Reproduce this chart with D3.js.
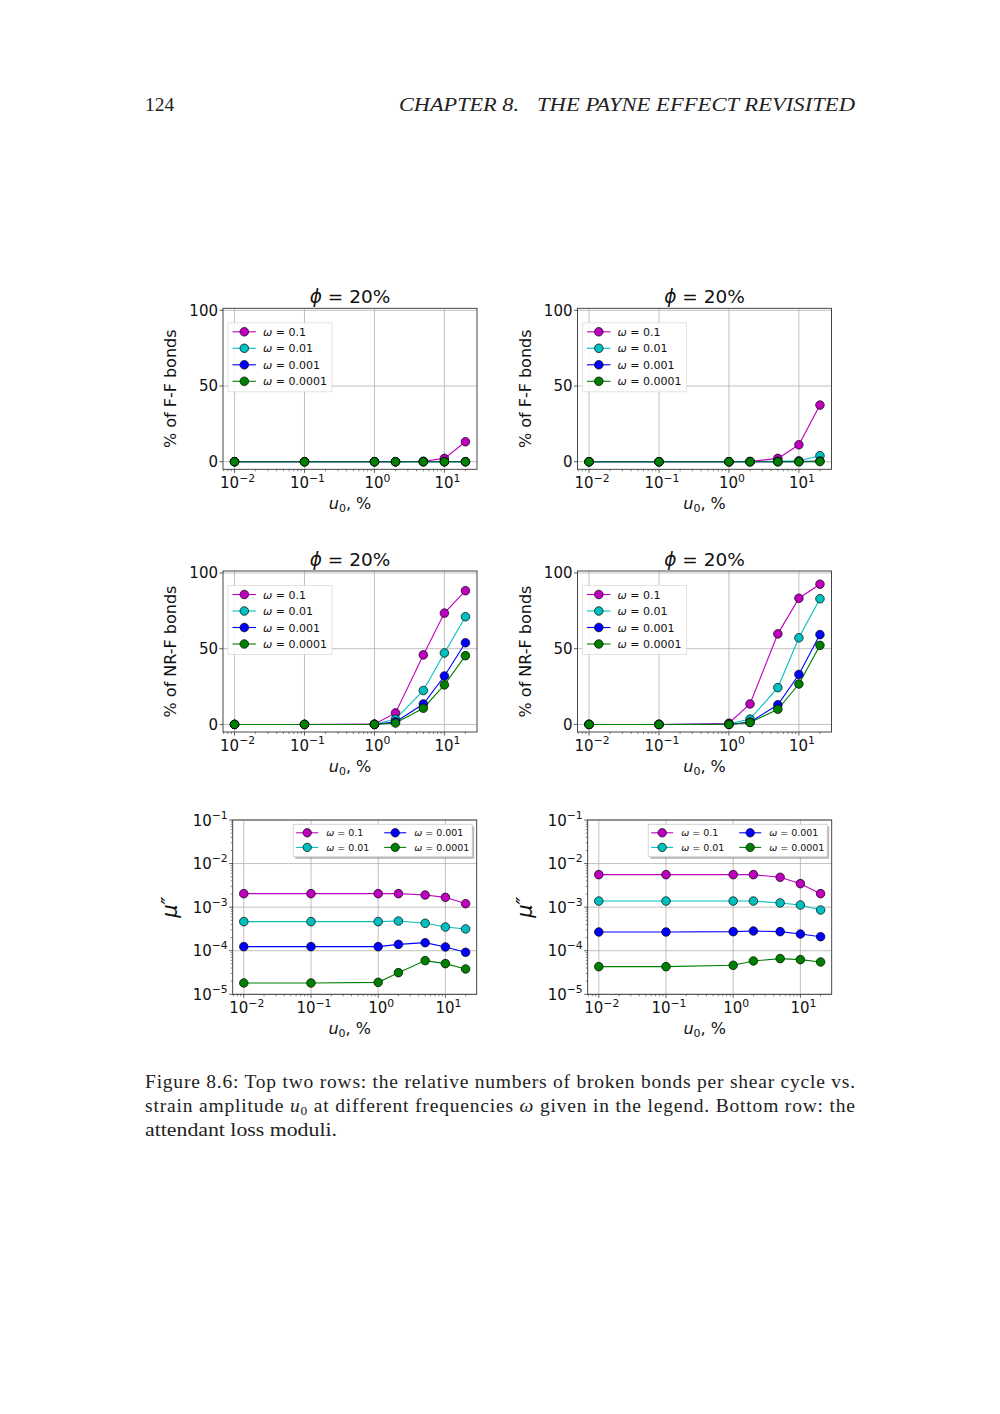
<!DOCTYPE html>
<html>
<head>
<meta charset="utf-8">
<script src="https://cdn.jsdelivr.net/npm/d3@7"></script>
<style>
  body { margin: 0; background: #fff; }
  svg { display: block; }
  .grid line { stroke: #b0b0b0; stroke-width: 0.8; }
  .serif { font-family: "Liberation Serif", "DejaVu Serif", serif; fill: #222; }
  .sans { font-family: "DejaVu Sans", sans-serif; fill: #111; }
</style>
</head>
<body>
<svg width="1000" height="1414"></svg>
<script>
// strain amplitudes u0, %
const u0 = [0.01, 0.1, 1, 2, 5, 10, 20];
const omegaLabels = ["0.1", "0.01", "0.001", "0.0001"];
const seriesColors = ["#bf00bf", "#00bfbf", "#0000ff", "#008000"];

// % of F-F bonds (rows: omega = 0.1, 0.01, 0.001, 0.0001)
const ffLeft = [
  [0, 0, 0, 0, 0.3, 2.2, 13.2],
  [0, 0, 0, 0, 0, 0, 0],
  [0, 0, 0, 0, 0, 0, 0],
  [0, 0, 0, 0, 0, 0, 0]
];
const ffRight = [
  [0, 0, 0, 0.2, 2.2, 11.2, 37.4],
  [0, 0, 0, 0, 0.2, 0.6, 4.0],
  [0, 0, 0, 0, 0, 0.1, 0.4],
  [0, 0, 0, 0, 0, 0, 0.1]
];

// % of NR-F bonds
const nrfLeft = [
  [0, 0, 0.2, 7.6, 45.9, 73.5, 88.3],
  [0, 0, 0, 3.5, 22.4, 47.2, 71.1],
  [0, 0, 0, 1.7, 13.5, 32.0, 53.9],
  [0, 0, 0, 0.9, 10.7, 26.1, 45.4]
];
const nrfRight = [
  [0, 0, 0.8, 13.5, 59.8, 83.3, 92.6],
  [0, 0, 0.3, 3.5, 24.3, 57.2, 83.0],
  [0, 0, 0, 1.5, 13.0, 33.0, 59.3],
  [0, 0, 0, 1.3, 10.0, 26.7, 52.2]
];

// loss modulus mu''
const muLeft = [
  [2.04e-3, 2.04e-3, 2.04e-3, 2.04e-3, 1.9e-3, 1.68e-3, 1.2e-3],
  [4.65e-4, 4.65e-4, 4.65e-4, 4.8e-4, 4.26e-4, 3.5e-4, 3.16e-4],
  [1.24e-4, 1.24e-4, 1.24e-4, 1.40e-4, 1.53e-4, 1.22e-4, 9.2e-5],
  [1.82e-5, 1.82e-5, 1.88e-5, 3.14e-5, 5.93e-5, 5.06e-5, 3.81e-5]
];
const muRight = [
  [5.57e-3, 5.57e-3, 5.57e-3, 5.57e-3, 4.84e-3, 3.46e-3, 2.04e-3],
  [1.38e-3, 1.38e-3, 1.38e-3, 1.38e-3, 1.25e-3, 1.12e-3, 8.6e-4],
  [2.69e-4, 2.69e-4, 2.74e-4, 2.84e-4, 2.74e-4, 2.42e-4, 2.1e-4],
  [4.31e-5, 4.31e-5, 4.63e-5, 5.82e-5, 6.6e-5, 6.24e-5, 5.52e-5]
];

// tick labels
const xTickExps = [-2, -1, 0, 1];
const linTicks = [0, 50, 100];
const logTickExps = [-5, -4, -3, -2, -1];

const svg = d3.select("svg");
svg.append("rect").attr("width", 1000).attr("height", 1414).attr("fill", "#fff");

// page header
svg.append("text").attr("class", "serif")
  .attr("x", 145).attr("y", 111).attr("font-size", "19.5px").text("124");
svg.append("text").attr("class", "serif")
  .attr("x", 399).attr("y", 111).attr("font-size", "19.5px")
  .attr("font-style", "italic").attr("textLength", 120).attr("lengthAdjust", "spacingAndGlyphs")
  .text("CHAPTER 8.");
svg.append("text").attr("class", "serif")
  .attr("x", 537).attr("y", 111).attr("font-size", "19.5px")
  .attr("font-style", "italic").attr("textLength", 318).attr("lengthAdjust", "spacingAndGlyphs")
  .text("THE PAYNE EFFECT REVISITED");

function powLabel(sel, exp, size) {
  sel.append("tspan").text("10");
  sel.append("tspan")
    .attr("dy", -size * 0.45)
    .attr("font-size", size * 0.72 + "px")
    .text(exp < 0 ? "\u2212" + (-exp) : exp);
}

function drawPanel(p) {
  const g = svg.append("g");
  const xExtent = [-2.165, 1.466];
  const x = d3.scaleLog()
    .domain([Math.pow(10, xExtent[0]), Math.pow(10, xExtent[1])])
    .range([p.x0, p.x1]);
  let y;
  if (p.log) {
    y = d3.scaleLog().domain([1e-5, 1e-1]).range([p.y1, p.y0]);
  } else {
    y = d3.scaleLinear().domain([-5, 101.3]).range([p.y1, p.y0]);
  }

  // grid
  const grid = g.append("g").attr("class", "grid");
  grid.selectAll(".gx").data(xTickExps).enter().append("line")
    .attr("x1", d => x(Math.pow(10, d))).attr("x2", d => x(Math.pow(10, d)))
    .attr("y1", p.y0).attr("y2", p.y1);
  const yTickVals = p.log ? logTickExps.map(e => Math.pow(10, e)) : linTicks;
  grid.selectAll(".gy").data(yTickVals).enter().append("line")
    .attr("x1", p.x0).attr("x2", p.x1)
    .attr("y1", d => y(d)).attr("y2", d => y(d));

  // lines and markers
  const line = d3.line().x((d, i) => x(u0[i])).y(d => y(d));
  p.data.forEach((s, k) => {
    g.append("path").datum(s)
      .attr("d", line).attr("fill", "none")
      .attr("stroke", seriesColors[k]).attr("stroke-width", 1.1);
  });
  p.data.forEach((s, k) => {
    g.selectAll(null).data(s).enter().append("circle")
      .attr("cx", (d, i) => x(u0[i])).attr("cy", d => y(d))
      .attr("r", 4.3).attr("fill", seriesColors[k])
      .attr("stroke", "#000").attr("stroke-width", 0.7);
  });

  // frame
  g.append("rect")
    .attr("x", p.x0).attr("y", p.y0)
    .attr("width", p.x1 - p.x0).attr("height", p.y1 - p.y0)
    .attr("fill", "none").attr("stroke", "#333").attr("stroke-width", 0.9);

  // x ticks (major + minor)
  const minorX = [];
  for (let e = -3; e <= 1; e++) for (let m = 2; m <= 9; m++) {
    const v = m * Math.pow(10, e);
    if (v > x.domain()[0] && v < x.domain()[1]) minorX.push(v);
  }
  g.selectAll(null).data(minorX).enter().append("line")
    .attr("x1", d => x(d)).attr("x2", d => x(d))
    .attr("y1", p.y1).attr("y2", p.y1 + 2)
    .attr("stroke", "#333").attr("stroke-width", 0.6);
  g.selectAll(null).data(xTickExps).enter().append("line")
    .attr("x1", d => x(Math.pow(10, d))).attr("x2", d => x(Math.pow(10, d)))
    .attr("y1", p.y1).attr("y2", p.y1 + 3.5)
    .attr("stroke", "#333").attr("stroke-width", 0.8);
  g.selectAll(null).data(xTickExps).enter().append("text")
    .attr("class", "sans").attr("font-size", "15px")
    .attr("text-anchor", "middle")
    .attr("x", d => x(Math.pow(10, d)) + 3).attr("y", p.y1 + 19)
    .each(function(d) { powLabel(d3.select(this), d, 15); });

  // y ticks
  if (p.log) {
    const minorY = [];
    for (let e = -5; e < -1; e++) for (let m = 2; m <= 9; m++) minorY.push(m * Math.pow(10, e));
    g.selectAll(null).data(minorY).enter().append("line")
      .attr("x1", p.x0 - 2).attr("x2", p.x0)
      .attr("y1", d => y(d)).attr("y2", d => y(d))
      .attr("stroke", "#333").attr("stroke-width", 0.6);
  }
  g.selectAll(null).data(yTickVals).enter().append("line")
    .attr("x1", p.x0 - 3.5).attr("x2", p.x0)
    .attr("y1", d => y(d)).attr("y2", d => y(d))
    .attr("stroke", "#333").attr("stroke-width", 0.8);
  const ytl = g.selectAll(null).data(yTickVals).enter().append("text")
    .attr("class", "sans").attr("font-size", "15px")
    .attr("text-anchor", "end")
    .attr("x", p.x0 - 5).attr("y", d => y(d) + 5.5);
  if (p.log) {
    ytl.each(function(d) { powLabel(d3.select(this), Math.round(Math.log10(d)), 15); });
  } else {
    ytl.text(d => d);
  }

  // axis labels
  const xl = g.append("text").attr("class", "sans").attr("font-size", "16px")
    .attr("text-anchor", "middle")
    .attr("x", (p.x0 + p.x1) / 2 - (p.log ? 5 : 0)).attr("y", p.y1 + 40);
  xl.append("tspan").attr("font-style", "italic").text("u");
  xl.append("tspan").attr("font-size", "11px").attr("dy", 3).text("0");
  xl.append("tspan").attr("dy", -3).text(", %");

  const ylx = p.x0 - (p.log ? 56 : 47);
  const yl = g.append("text").attr("class", "sans").attr("font-size", "16px")
    .attr("text-anchor", "middle")
    .attr("transform", "translate(" + ylx + "," + (p.y0 + p.y1) / 2 + ") rotate(-90)");
  if (p.log) {
    yl.attr("font-size", "21px");
    yl.append("tspan").attr("font-style", "italic").text("\u03bc\u2033");
  } else {
    yl.text(p.ylabel);
  }

  if (p.title) {
    const t = g.append("text").attr("class", "sans").attr("font-size", "18.5px")
      .attr("text-anchor", "middle")
      .attr("x", (p.x0 + p.x1) / 2).attr("y", p.y0 - 5);
    t.append("tspan").attr("font-style", "italic").text("\u03d5");
    t.append("tspan").text(" = 20%");
  }

  // legend
  if (p.log) {
    const lx = p.x1 - 183.5, ly = p.y0 + 4.3, lw = 179, lh = 32.5;
    g.append("rect").attr("x", lx + 2).attr("y", ly + 2).attr("width", lw).attr("height", lh)
      .attr("fill", "#888").attr("opacity", 0.6);
    g.append("rect").attr("x", lx).attr("y", ly).attr("width", lw).attr("height", lh)
      .attr("fill", "#fff").attr("stroke", "#ccc").attr("stroke-width", 0.8);
    omegaLabels.forEach((lab, k) => {
      const cx = lx + 3 + (k < 2 ? 0 : 88);
      const cy = ly + 8.5 + (k % 2) * 14.6;
      g.append("line").attr("x1", cx).attr("x2", cx + 22).attr("y1", cy).attr("y2", cy)
        .attr("stroke", seriesColors[k]).attr("stroke-width", 1.1);
      g.append("circle").attr("cx", cx + 11).attr("cy", cy).attr("r", 4.2)
        .attr("fill", seriesColors[k]).attr("stroke", "#000").attr("stroke-width", 0.7);
      const tx = g.append("text").attr("class", "sans").attr("font-size", "9.5px")
        .attr("x", cx + 30).attr("y", cy + 3.4);
      tx.append("tspan").attr("font-style", "italic").text("\u03c9");
      tx.append("tspan").text(" = " + lab);
    });
  } else {
    const lx = p.x0 + 5, ly = p.y0 + 14.5, lw = 104, lh = 69;
    g.append("rect").attr("x", lx).attr("y", ly).attr("width", lw).attr("height", lh)
      .attr("fill", "#fff").attr("fill-opacity", 0.85)
      .attr("stroke", "#ddd").attr("stroke-width", 0.8);
    omegaLabels.forEach((lab, k) => {
      const cy = ly + 9 + k * 16.5;
      g.append("line").attr("x1", lx + 4.5).attr("x2", lx + 28).attr("y1", cy).attr("y2", cy)
        .attr("stroke", seriesColors[k]).attr("stroke-width", 1.1);
      g.append("circle").attr("cx", lx + 16.3).attr("cy", cy).attr("r", 4.3)
        .attr("fill", seriesColors[k]).attr("stroke", "#000").attr("stroke-width", 0.7);
      const tx = g.append("text").attr("class", "sans").attr("font-size", "11px")
        .attr("x", lx + 35).attr("y", cy + 4);
      tx.append("tspan").attr("font-style", "italic").text("\u03c9");
      tx.append("tspan").text(" = " + lab);
    });
  }
}

const panels = [
  { x0: 223, x1: 477, y0: 308.3, y1: 469.3, data: ffLeft, ylabel: "% of F-F bonds", title: true },
  { x0: 577.5, x1: 831.5, y0: 308.3, y1: 469.3, data: ffRight, ylabel: "% of F-F bonds", title: true },
  { x0: 223, x1: 477, y0: 571, y1: 732, data: nrfLeft, ylabel: "% of NR-F bonds", title: true },
  { x0: 577.5, x1: 831.5, y0: 571, y1: 732, data: nrfRight, ylabel: "% of NR-F bonds", title: true },
  { x0: 232.7, x1: 476.7, y0: 820, y1: 994.3, data: muLeft, log: true },
  { x0: 587.7, x1: 831.7, y0: 820, y1: 994.3, data: muRight, log: true }
];
panels.forEach(drawPanel);

// caption
svg.append("text").attr("class", "serif").attr("font-size", "19.5px")
  .attr("x", 145).attr("y", 1088).attr("textLength", 710).attr("lengthAdjust", "spacing")
  .text("Figure 8.6: Top two rows: the relative numbers of broken bonds per shear cycle vs.");
const cap2 = svg.append("text").attr("class", "serif").attr("font-size", "19.5px")
  .attr("x", 145).attr("y", 1112).attr("textLength", 710).attr("lengthAdjust", "spacing");
cap2.append("tspan").text("strain amplitude ");
cap2.append("tspan").attr("font-style", "italic").text("u");
cap2.append("tspan").attr("font-size", "13.5px").attr("dy", 3).text("0");
cap2.append("tspan").attr("dy", -3).text(" at different frequencies ");
cap2.append("tspan").attr("font-style", "italic").text("\u03c9");
cap2.append("tspan").text(" given in the legend. Bottom row: the");
svg.append("text").attr("class", "serif").attr("font-size", "19.5px")
  .attr("x", 145).attr("y", 1136).attr("textLength", 192).attr("lengthAdjust", "spacingAndGlyphs")
  .text("attendant loss moduli.");
</script>
</body>
</html>
